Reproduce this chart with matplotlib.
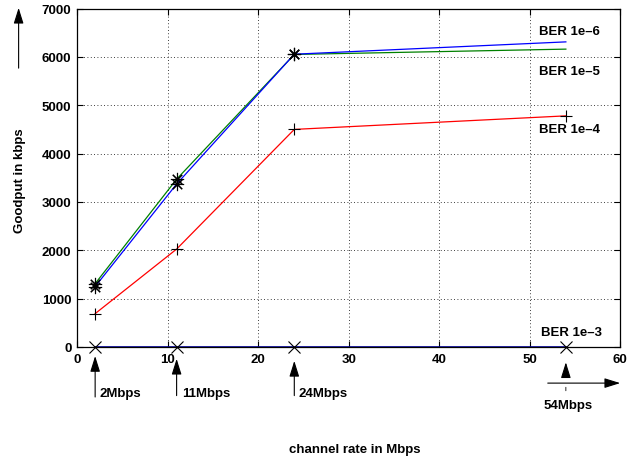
import matplotlib
matplotlib.use("Agg")
import matplotlib.pyplot as plt
from matplotlib.patches import FancyArrowPatch

plt.rcParams['font.family'] = ['Liberation Sans', 'DejaVu Sans']
plt.rcParams['font.weight'] = 'bold'

rates = [2, 11, 24, 54]
ber_1e6 = [1250, 3370, 6055, 6310]
ber_1e5 = [1310, 3470, 6050, 6160]
ber_1e4 = [690, 2025, 4500, 4780]
ber_1e3 = [0, 0, 0, 0]
rate_labels = ['2Mbps', '11Mbps', '24Mbps', '54Mbps']
xticks = [0, 10, 20, 30, 40, 50, 60]
yticks = [0, 1000, 2000, 3000, 4000, 5000, 6000, 7000]

FS = 9.5

fig = plt.figure(figsize=(6.42, 4.64), dpi=100)
ax = fig.add_axes([0.12, 0.25, 0.846, 0.7295])

ax.plot(rates, ber_1e5, color='#008000', lw=0.9, zorder=3)
ax.plot(rates, ber_1e6, color='#0000ff', lw=0.9, zorder=3)
ax.plot(rates, ber_1e4, color='#ff0000', lw=0.9, zorder=3)
ax.plot(rates, ber_1e3, color='#00008b', lw=1.2, zorder=3)

ax.plot(rates[:3], ber_1e5[:3], ls='none', marker=(8, 2, 0), ms=9.5, mec='black', mew=0.8, zorder=4)
ax.plot(rates[:3], ber_1e6[:3], ls='none', marker=(8, 2, 0), ms=9.5, mec='black', mew=0.8, zorder=4)
ax.plot(rates, ber_1e4, ls='none', marker='+', ms=9, mec='black', mew=0.8, zorder=4)
ax.plot(rates, ber_1e3, ls='none', marker='x', ms=8, mec='black', mew=0.8, zorder=4, clip_on=False)

ax.set_xlim(0, 60)
ax.set_ylim(0, 7000)
ax.set_xticks(xticks)
ax.set_yticks(yticks)
ax.tick_params(direction='in', top=True, right=True, length=4, width=0.8,
               labelsize=FS, pad=4)
for lab in ax.get_xticklabels() + ax.get_yticklabels():
    lab.set_fontweight('bold')
ax.grid(True, ls=(0, (1, 3)), color='black', lw=0.6)
for s in ax.spines.values():
    s.set_linewidth(0.9)

tk = dict(fontsize=FS, fontweight='bold')
ax.text(51, 6530, 'BER 1e\u20136', va='center', ha='left', **tk)
ax.text(51, 5700, 'BER 1e\u20135', va='center', ha='left', **tk)
ax.text(51, 4500, 'BER 1e\u20134', va='center', ha='left', **tk)
ax.text(51.2, 310, 'BER 1e\u20133', va='center', ha='left', **tk)

ap = dict(arrowstyle='-|>,head_length=0.8,head_width=0.25', color='black',
          lw=0.8, mutation_scale=12, shrinkA=0, shrinkB=0)
heads = [-6.5, -8.5, -10, -11]
tails = [-36, -35, -35, -21]
for r, h, t in zip(rates, heads, tails):
    ax.annotate('', xy=(r, h), xycoords=('data', 'axes points'),
                xytext=(r, t), textcoords=('data', 'axes points'),
                arrowprops=ap, annotation_clip=False)
for r, lab, dx in zip(rates[:3], rate_labels[:3], [0.5, 0.6, 0.5]):
    ax.annotate(lab, xy=(r + dx, -33), xycoords=('data', 'axes points'),
                ha='left', va='center', annotation_clip=False, **tk)
ax.annotate(rate_labels[3], xy=(54.2, -42), xycoords=('data', 'axes points'),
            ha='center', va='center', annotation_clip=False, **tk)
ax.annotate('', xy=(54, -29), xycoords=('data', 'axes points'),
            xytext=(54, -31.5), textcoords=('data', 'axes points'),
            arrowprops=dict(arrowstyle='-', color='black', lw=0.6, shrinkA=0, shrinkB=0),
            annotation_clip=False)
ax.annotate('', xy=(60, -26), xycoords=('data', 'axes points'),
            xytext=(52, -26), textcoords=('data', 'axes points'),
            arrowprops=ap, annotation_clip=False)

fig.text(0.553, 0.03, 'channel rate in Mbps', ha='center', va='center', **tk)
fig.text(0.031, 0.61, 'Goodput in kbps', ha='center', va='center', rotation=90, **tk)
fig.add_artist(FancyArrowPatch((0.029, 0.851), (0.029, 0.981),
               transform=fig.transFigure,
               arrowstyle='-|>,head_length=0.8,head_width=0.25', color='black',
               lw=0.8, mutation_scale=12, shrinkA=0, shrinkB=0))

fig.savefig('out.png', dpi=100)
